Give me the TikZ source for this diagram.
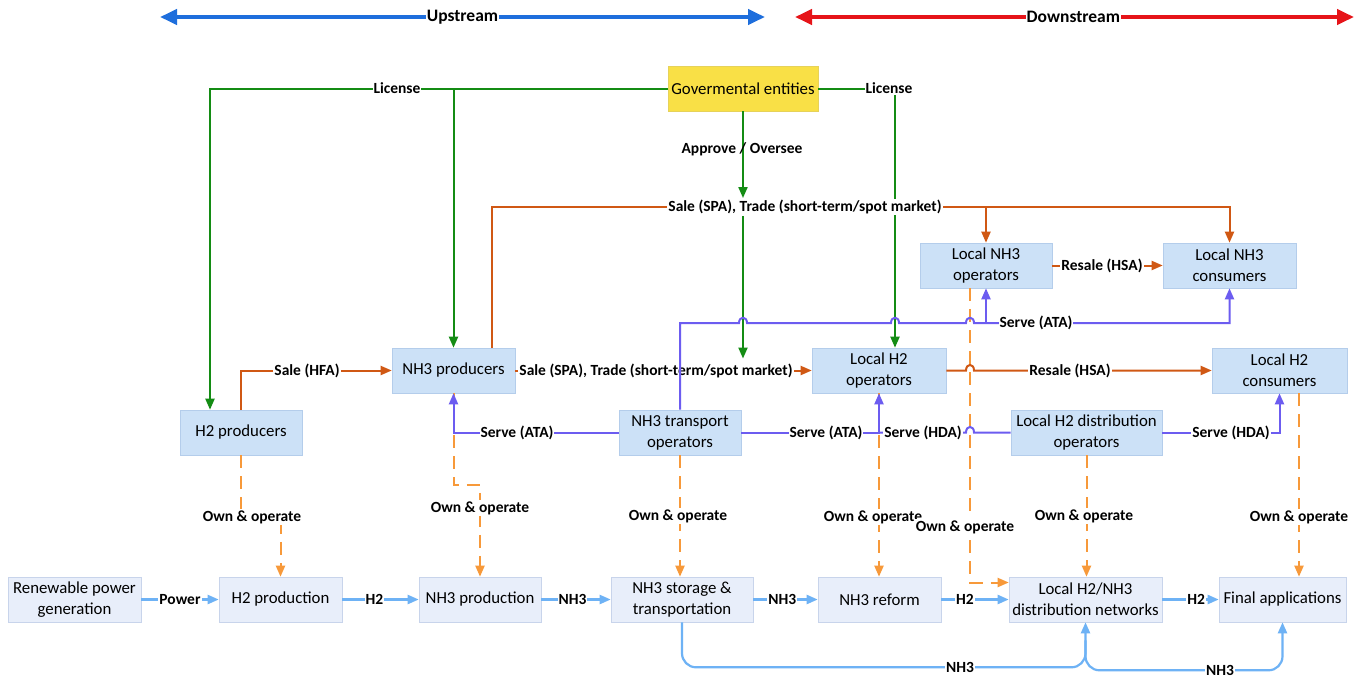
\documentclass[tikz,border=0pt]{standalone}
\usepackage{fontspec}
\setmainfont{Carlito}
\usetikzlibrary{arrows.meta}
\definecolor{boxfill}{RGB}{204,225,247}
\definecolor{boxedge}{RGB}{180,205,235}
\definecolor{lowfill}{RGB}{232,238,250}
\definecolor{lowedge}{RGB}{200,212,235}
\definecolor{govfill}{RGB}{249,224,70}
\definecolor{govedge}{RGB}{230,210,90}
\definecolor{licgreen}{RGB}{20,140,20}
\definecolor{saleor}{RGB}{208,88,20}
\definecolor{servepu}{RGB}{108,92,240}
\definecolor{ownor}{RGB}{247,153,58}
\definecolor{flowbl}{RGB}{110,178,245}
\definecolor{upbl}{RGB}{30,110,220}
\definecolor{downrd}{RGB}{230,20,25}
\begin{document}
\begin{tikzpicture}[x=1pt,y=-1pt,
  box/.style={draw=boxedge,fill=boxfill,line width=0.6pt,minimum height=45pt,inner sep=2pt,align=center,font=\fontsize{16.8}{21}\selectfont},
  lowbox/.style={box,draw=lowedge,fill=lowfill},
  lbl/.style={font=\bfseries\fontsize{15.5}{17}\selectfont,fill=white,inner sep=1pt},
  arr/.style={-{Triangle[length=11pt,width=9pt]}},
  lic/.style={draw=licgreen,line width=2pt},
  sale/.style={draw=saleor,line width=2pt},
  serve/.style={draw=servepu,line width=2pt},
  own/.style={draw=ownor,line width=2pt,dash pattern=on 13pt off 8pt},
  flow/.style={draw=flowbl,line width=2.2pt},
  bigarr/.style={line width=4pt,{Triangle[length=17pt,width=15pt]}-{Triangle[length=17pt,width=15pt]}},
  toplbl/.style={lbl,font=\bfseries\fontsize{17.5}{19}\selectfont,inner sep=0.5pt}
]
\fill[white] (0,0) rectangle (1361,678);
\useasboundingbox (0,0) rectangle (1361,678);

% ---- top arrows
\coordinate (upL) at (160,17);
\coordinate (upR) at (765,17);
\coordinate (dnL) at (795,17);
\coordinate (dnR) at (1354,17);
\draw[bigarr,draw=upbl,fill=upbl] (upL) -- (upR) node[toplbl,midway] {Upstream};
\draw[bigarr,draw=downrd,fill=downrd] (dnL) -- (dnR) node[toplbl,pos=0.498] {Downstream};

% ---- nodes
\node[box,fill=govfill,draw=govedge,minimum width=150pt] (gov) at (743,88.5) {Govermental entities};
\node[box,minimum width=122pt] (h2p) at (241,432.5) {H2 producers};
\node[box,minimum width=123pt] (np) at (453.5,370.5) {NH3 producers};
\node[box,minimum width=122pt] (nto) at (680,432.5) {NH3 transport\\operators};
\node[box,minimum width=134pt] (lh2op) at (879,370.5) {Local H2\\operators};
\node[box,minimum width=132pt] (lno) at (986,265.5) {Local NH3\\operators};
\node[box,minimum width=133pt] (lnc) at (1229.5,265.5) {Local NH3\\consumers};
\node[box,minimum width=135pt] (lh2c) at (1279.5,370.5) {Local H2\\consumers};
\node[box,minimum width=151pt] (lhdo) at (1086.5,432.5) {Local H2 distribution\\operators};

\node[lowbox,minimum width=133pt] (ren) at (74.5,599.5) {Renewable power\\generation};
\node[lowbox,minimum width=123pt] (h2prod) at (280.5,599.5) {H2 production};
\node[lowbox,minimum width=122pt] (nh3prod) at (480,599.5) {NH3 production};
\node[lowbox,minimum width=142pt] (store) at (682,599.5) {NH3 storage \&\\transportation};
\node[lowbox,minimum width=123pt] (reform) at (879.5,599.5) {NH3 reform};
\node[lowbox,minimum width=153pt] (dist) at (1085.5,599.5) {Local H2/NH3\\distribution networks};
\node[lowbox,minimum width=127pt] (fa) at (1282.5,599.5) {Final applications};

\coordinate (tr) at (0,207);
\coordinate (sv) at (0,323);

% ---- own & operate (drawn first, under the hops)
\draw[own,arr] (h2p.south) -- (241,517) -- (280.5,517) -- (h2prod.north);
\node[lbl] (o1) at (252,517) {Own \& operate};
\draw[own,arr] (np.south) -- (453.5,485) -- (480,485) -- (nh3prod.north);
\node[lbl] (o2) at (480,508) {Own \& operate};
\draw[own,arr] (nto.south) -- (nto.south |- store.north);
\node[lbl] (o3) at (678,516) {Own \& operate};
\draw[own,arr] (lh2op.south) -- (lh2op.south |- reform.north);
\node[lbl] (o4) at (873,517) {Own \& operate};
\draw[own,arr] ([xshift=-16pt]lno.south) |- ([yshift=17pt]dist.west);
\node[lbl] (o5) at (965,527) {Own \& operate};
\draw[own,arr] (lhdo.south) -- (lhdo.south |- dist.north);
\node[lbl] (o6) at (1084,516) {Own \& operate};
\draw[own,arr] ([xshift=19.5pt]lh2c.south) -- ([xshift=19.5pt]lh2c.south |- fa.north);
\node[lbl] (o7) at (1299,517) {Own \& operate};

% ---- license
\draw[lic,arr] (gov.west) -| ([xshift=-31pt]h2p.north);
\draw[lic,arr] (gov.west) -| (np.north);
\node[lbl] (lic1) at (397,88.5) {License};
\draw[lic,arr] (gov.east) -| ([xshift=16pt]lh2op.north) node[lbl,pos=0.5,xshift=-6pt] (lic2) {License};

% ---- sales
\draw[sale,arr] (h2p.north) |- (np.west) node[lbl] at (307,370.5) {Sale (HFA)};
\draw[sale,arr] ([xshift=38pt]np.north) -- ([xshift=38pt]np.north |- tr) -| (lnc.north)
  node[lbl] (spa1) at (805,207) {Sale (SPA), Trade (short-term/spot market)};
\draw[sale,arr] (lno.north |- tr) -- (lno.north);
\draw[sale,arr] (np.east) -- (lh2op.west)
  node[lbl] (spa2) at (656,370.5) {Sale (SPA), Trade (short-term/spot market)};
\draw[sale,arr] (lno.east) -- (lnc.west) node[lbl,pos=0.45] {Resale (HSA)};
\draw[sale,arr] (lh2op.east) -- (966,370.5) .. controls (966,363) and (974,363) .. (974,370.5) -- (lh2c.west)
  node[lbl] at (1070,370.5) {Resale (HSA)};

% ---- approve / oversee
\draw[lic,arr] (gov.south) -- (gov.south |- spa1.north);
\node[lbl,fill=none] (appr) at (742,149) {Approve / Oversee};
\draw[lic,arr] (gov.south |- spa1.south) -- ([yshift=3pt]gov.south |- spa2.north);

% ---- serve
\draw[serve,arr] (nto.north) -- (nto.north |- sv) -- (739,323) .. controls (739,316) and (747,316) .. (747,323)
  -- (891,323) .. controls (891,316) and (899,316) .. (899,323)
  -- (966,323) .. controls (966,316) and (974,316) .. (974,323) -| (lnc.south)
  node[lbl] at (1036,323) {Serve (ATA)};
\draw[serve,arr] (lno.south |- sv) -- (lno.south);
\draw[serve,arr] (nto.west) -| (np.south) node[lbl] at (517,432.5) {Serve (ATA)};
\draw[serve,arr] (nto.east) -| (lh2op.south) node[lbl] at (826,432.5) {Serve (ATA)};
\draw[serve] (lhdo.west) -- (974,432.5) .. controls (974,425) and (966,425) .. (966,432.5) -- (lh2op.south |- lhdo.west)
  node[lbl] at (923,432.5) {Serve (HDA)};
\draw[serve,arr] (lhdo.east) -| (lh2c.south) node[lbl] at (1231,432.5) {Serve (HDA)};

% ---- physical flows
\draw[flow,arr] (ren.east) -- (h2prod.west) node[lbl,midway] {Power};
\draw[flow,arr] (h2prod.east) -- (nh3prod.west) node[lbl,pos=0.42] {H2};
\draw[flow,arr] (nh3prod.east) -- (store.west) node[lbl,pos=0.45] {NH3};
\draw[flow,arr] (store.east) -- (reform.west) node[lbl,pos=0.45] {NH3};
\draw[flow,arr] (reform.east) -- (dist.west) node[lbl,pos=0.35] {H2};
\draw[flow,arr] (dist.east) -- (fa.west) node[lbl,pos=0.6] {H2};
\draw[flow,arr,rounded corners=14pt] (store.south) |- ([yshift=-45pt]dist.south) -- (dist.south);
\node[lbl] (f1) at (960,667) {NH3};
\draw[flow,arr,rounded corners=14pt] ([yshift=-18pt]dist.south) |- ([yshift=-48pt]fa.south) -- (fa.south);
\node[lbl] (f2) at (1220,670) {NH3};
\end{tikzpicture}
\end{document}
